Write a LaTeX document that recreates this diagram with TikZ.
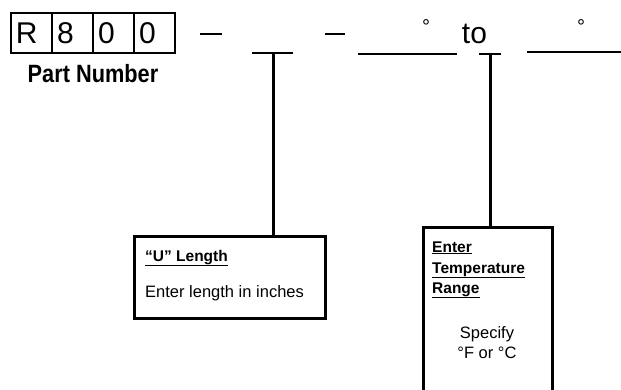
\documentclass[tikz,border=0pt]{standalone}
\usepackage{fontspec}
\setmainfont{Liberation Sans}
\begin{document}
\begin{tikzpicture}[x=1pt,y=-1pt,
  pnbox/.style={draw, line width=2pt, minimum width=41pt, minimum height=40pt, inner ysep=0pt,
    inner xsep=5.5pt, text width=30pt, align=left,
    text height=21.5pt, text depth=0pt, font=\fontsize{30}{36}\selectfont},
  blank/.style={line width=2.6pt},
  vline/.style={line width=3pt},
  infobox/.style={draw, line width=2.5pt, inner sep=0pt, anchor=north west},
  bigtxt/.style={font=\fontsize{30}{36}\selectfont, inner sep=0pt, anchor=base},
  degtxt/.style={font=\fontsize{20}{24}\selectfont, inner sep=0pt, anchor=base},
  hdr/.style={font=\fontsize{15.5}{18}\selectfont\bfseries, inner sep=0pt, anchor=base west},
  body/.style={font=\fontsize{16.5}{20}\selectfont, inner sep=0pt, anchor=base}
]
\useasboundingbox (0,0) rectangle (621,389);
\clip (0,0) rectangle (621,389);
% part number boxes
\node[pnbox] (p1) at (31,33) {R};
\node[pnbox] (p2) at (72,33) {8};
\node[pnbox] (p3) at (113,33) {0};
\node[pnbox] (p4) at (154,33) {0};
\node[inner sep=0pt, anchor=base, font=\fontsize{25}{30}\selectfont\bfseries] (pn) at (93,82.7) {\scalebox{0.87}[1]{Part Number}};
% dashes and blanks
\coordinate (d1a) at (200,34); \coordinate (d1b) at (222,34);
\coordinate (d2a) at (325,34); \coordinate (d2b) at (345,34);
\coordinate (s1a) at (252,53); \coordinate (s1b) at (293,53);
\coordinate (s2a) at (358,54); \coordinate (s2b) at (457,54);
\coordinate (s3a) at (479,54); \coordinate (s3b) at (501,54);
\coordinate (s4a) at (527,52); \coordinate (s4b) at (625,52);
\coordinate (t1) at (273,53);
\coordinate (t2) at (490,54);
\draw[blank] (d1a) -- (d1b);
\draw[blank] (d2a) -- (d2b);
\draw[blank] (s1a) -- (s1b);
\draw[blank] (s2a) -- (s2b);
\draw[blank] (s3a) -- (s3b);
\draw[blank] (s4a) -- (s4b);
\node[degtxt] (deg1) at (426,33.7) {°};
\node[degtxt] (deg2) at (581,33.7) {°};
\node[bigtxt] (to) at (474.5,43.3) {to};
% info boxes
\node[infobox, minimum width=191pt, minimum height=82pt] (ulen) at (133,235) {};
\node[infobox, minimum width=129pt, minimum height=200pt] (temp) at (422,226) {};
\draw[vline] (t1) -- (ulen.north -| t1);
\draw[vline] (t2) -- (temp.north -| t2);
% box 1 text
\node[hdr] (u1) at (145,261) {\underline{“U” Length}};
\node[body, anchor=base west] (u2) at (145,297) {Enter length in inches};
% box 2 text
\node[hdr] (e1) at (432,252) {\underline{Enter}};
\node[hdr] (e2) at (432,273) {\underline{Temperature}};
\node[hdr] (e3) at (432,293) {\underline{Range}};
\node[body] (e4) at (487,338) {Specify};
\node[body] (e5) at (487,358) {°F or °C};
\end{tikzpicture}
\end{document}
